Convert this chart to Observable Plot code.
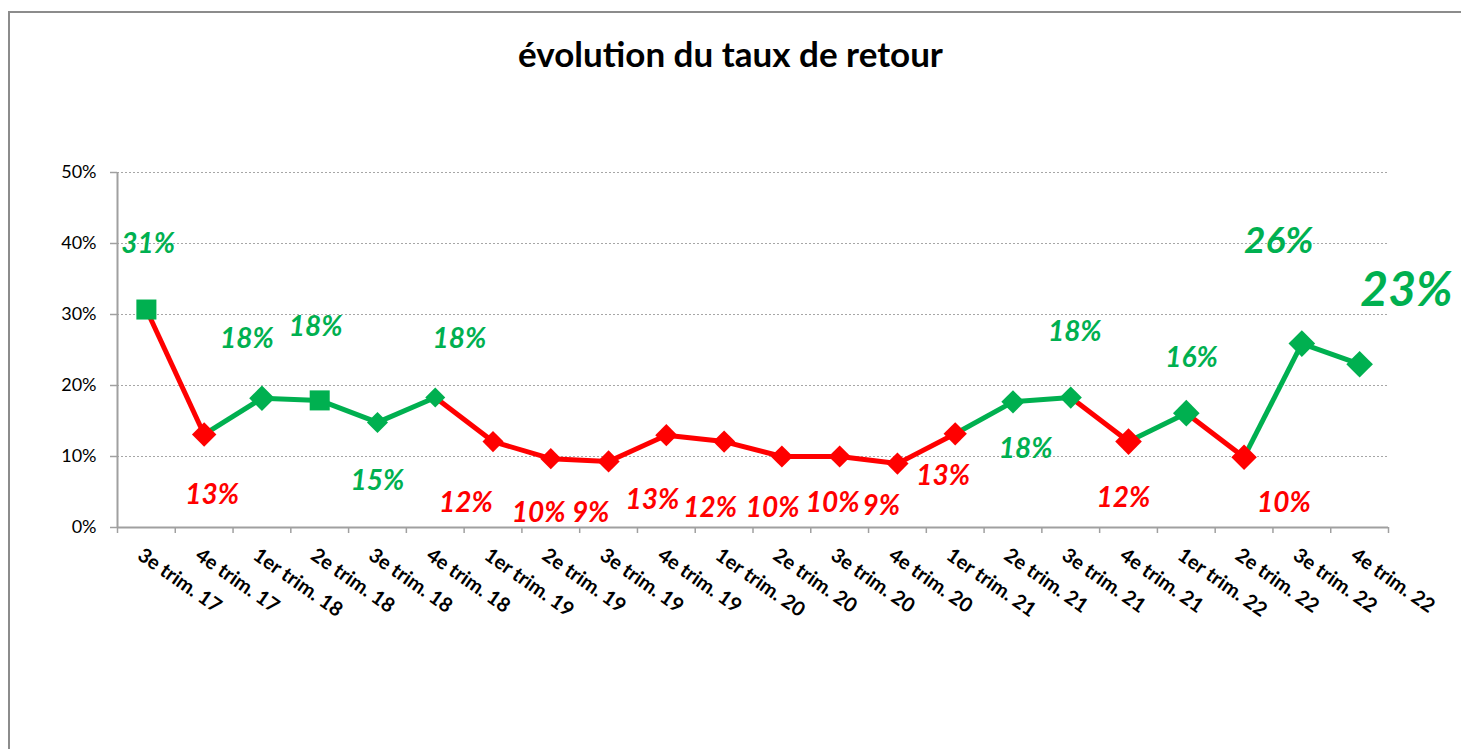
<!DOCTYPE html>
<html>
<head>
<meta charset="utf-8">
<script src="https://cdn.jsdelivr.net/npm/d3@7"></script>
<script src="https://cdn.jsdelivr.net/npm/@observablehq/plot@0.6"></script>
<style>
  html, body { margin: 0; padding: 0; background: #fff; overflow: hidden; }
  #frame {
    position: absolute; left: 8px; top: 11px; width: 1500px; height: 800px;
    border-left: 2px solid #8c8c8c; border-top: 2px solid #8c8c8c; background: #fff;
  }
  #title {
    width: 1461px; margin-left: -10px; text-align: center;
    height: 80px; line-height: 80px;
    font-family: Lato, sans-serif; font-weight: bold; font-size: 35px; color: #000;
  }
  #chart svg { display: block; }
</style>
</head>
<body>
<div id="frame">
  <div id="title">évolution du taux de retour</div>
  <div id="chart"></div>
</div>
<script>
// ---- data ----
const categories = [
  "3e trim. 17", "4e trim. 17",
  "1er trim. 18", "2e trim. 18", "3e trim. 18", "4e trim. 18",
  "1er trim. 19", "2e trim. 19", "3e trim. 19", "4e trim. 19",
  "1er trim. 20", "2e trim. 20", "3e trim. 20", "4e trim. 20",
  "1er trim. 21", "2e trim. 21", "3e trim. 21", "4e trim. 21",
  "1er trim. 22", "2e trim. 22", "3e trim. 22", "4e trim. 22"
];
const values = [30.7, 13.1, 18.2, 17.9, 14.8, 18.3, 12.1, 9.7, 9.3, 13.0, 12.1,
                10.0, 10.0, 9.0, 13.2, 17.7, 18.3, 12.1, 16.1, 9.9, 25.9, 23.0];
const yTicks = [0, 10, 20, 30, 40, 50];

// ---- layout / style (not data) ----
const threshold = 14;                 // green above, red below
const GREEN = "#00B050", RED = "#FF0000";
const squarePoints = [0, 3];
const markerR = [11.3, 11, 11.5, 11.3, 9.5, 9, 9.5, 9.5, 10, 10, 10, 10, 10, 10, 10.5, 10.5, 10, 12, 12, 11.5, 12, 12];
// label anchors: y in % units, x offset in category units
const labelY = [39.9, 4.6, 26.6, 28.3, 6.6, 26.6, 3.4, 2.0, 2.0, 3.8, 2.8,
                2.8, 3.4, 3.0, 7.3, 11.1, 27.5, 4.2, 23.9, 3.5, 40.3, 33.4];
const labelDx = [0.03, 0.14, -0.26, -0.07, 0, 0.42, -0.47, -0.21, -0.31, -0.24, -0.24,
                 -0.16, -0.12, -0.28, -0.21, 0.22, 0.07, -0.09, 0.09, 0.69, -0.40, 0.81];

const color = v => v > threshold ? GREEN : RED;
const idx = d3.range(values.length);
const FONT = "Lato, sans-serif";
const AXIS = "#a0a0a0";

const labelMark = (filter, size) => Plot.text(idx, {
  filter,
  x: i => i + 0.5 + labelDx[i],
  y: i => labelY[i],
  text: i => Math.round(values[i]) + "%",
  fill: i => color(values[i]),
  fontSize: size, fontWeight: "bold", fontStyle: "italic", fontFamily: FONT,
  textAnchor: "middle", lineAnchor: "middle"
});

const chart = Plot.plot({
  width: 1451, height: 656,
  marginLeft: 107, marginRight: 73, marginTop: 79, marginBottom: 222,
  x: {type: "linear", domain: [0, categories.length], axis: null},
  y: {type: "linear", domain: [0, 50], axis: null},
  r: {type: "identity"},
  style: {fontFamily: FONT, background: "transparent"},
  marks: [
    Plot.ruleY(yTicks.filter(d => d > 0), {stroke: "#a6a6a6", strokeDasharray: "2,2", strokeWidth: 1}),
    Plot.axisY({ticks: yTicks, tickFormat: d => d + "%", tickSize: 7, tickPadding: 14,
                stroke: AXIS, fill: "#000", fontSize: 18, fontFamily: FONT, label: null, strokeWidth: 1.5}),
    Plot.axisX({ticks: d3.range(categories.length + 1), tickFormat: () => "", tickSize: 6,
                stroke: AXIS, strokeWidth: 1.5, label: null}),
    Plot.ruleX([0], {stroke: AXIS, strokeWidth: 2}),
    Plot.ruleY([0], {stroke: AXIS, strokeWidth: 2}),
    Plot.text(categories, {
      x: (d, i) => i + 0.5, frameAnchor: "bottom", dx: -2, dy: 19,
      rotate: 35, textAnchor: "start", lineAnchor: "top",
      fontSize: 20, fontWeight: "bold", fontFamily: FONT, fill: "#000"
    }),
    Plot.link(idx.slice(1), {
      x1: i => i - 0.5, y1: i => values[i - 1],
      x2: i => i + 0.5, y2: i => values[i],
      stroke: i => color(values[i]), strokeWidth: 5
    }),
    Plot.dot(idx, {
      filter: i => !squarePoints.includes(i),
      x: i => i + 0.5, y: i => values[i], r: i => markerR[i],
      symbol: "diamond2", fill: i => color(values[i]), stroke: "none"
    }),
    Plot.dot(idx, {
      filter: i => squarePoints.includes(i),
      x: i => i + 0.5, y: i => values[i], r: i => markerR[i],
      symbol: "square", fill: i => color(values[i]), stroke: "none"
    }),
    labelMark(i => i < 20, 28),
    labelMark(i => i === 20, 37),
    labelMark(i => i === 21, 48)
  ]
});
document.getElementById("chart").appendChild(chart);
</script>
</body>
</html>
